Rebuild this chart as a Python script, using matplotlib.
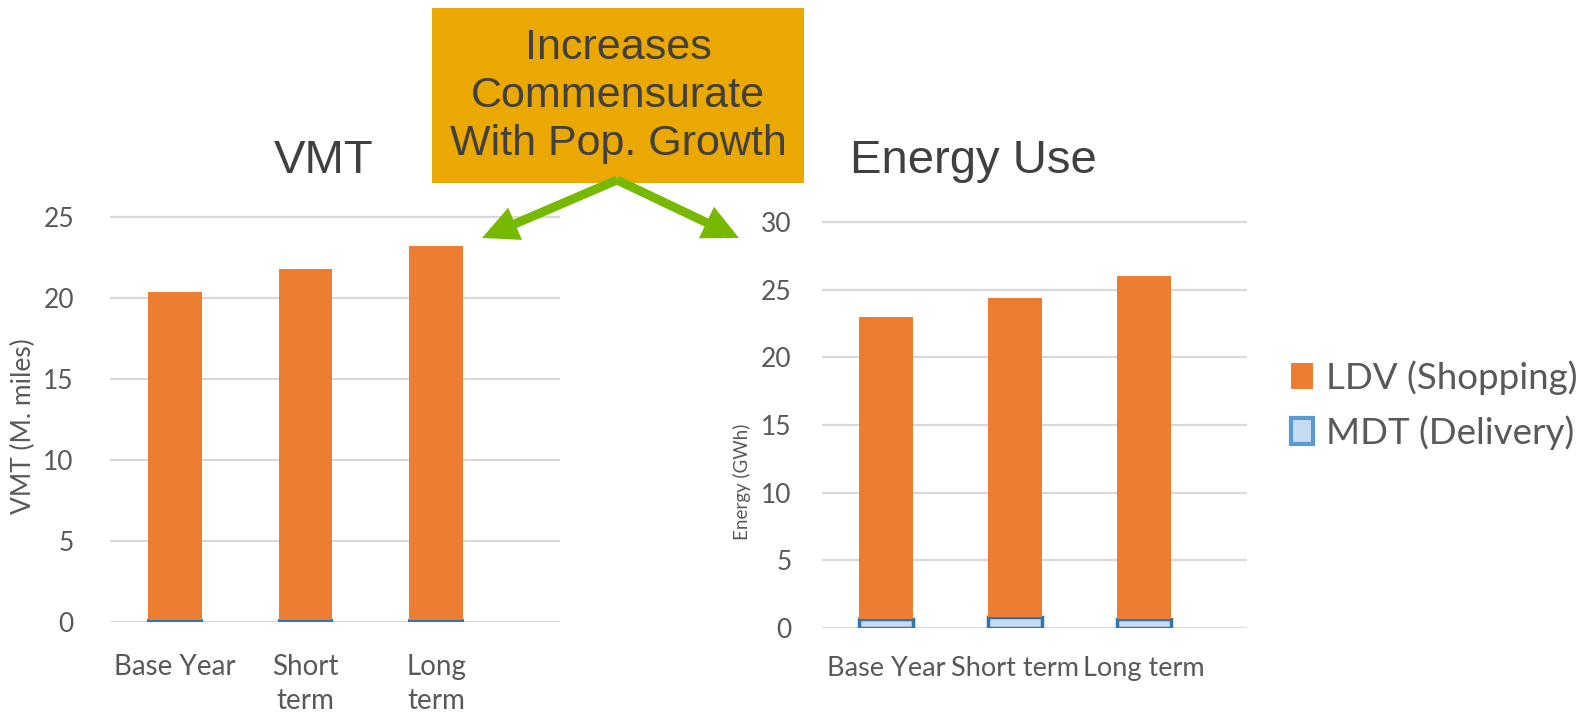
import matplotlib
matplotlib.use("Agg")
import matplotlib.pyplot as plt
from matplotlib.patches import Patch, Rectangle, FancyArrow
import numpy as np

W, H = 1581, 719

# 데이터
vmt_cats = ["Base Year", "Short\nterm", "Long\nterm"]
vmt_ldv = [20.3, 21.7, 23.1]
vmt_mdt = [0.1, 0.1, 0.1]

energy_cats = ["Base Year", "Short term", "Long term"]
energy_ldv = [22.35, 23.6, 25.3]
energy_mdt = [0.65, 0.8, 0.7]

vmt_ticks = [0, 5, 10, 15, 20, 25]
energy_ticks = [0, 5, 10, 15, 20, 25, 30]

ORANGE = "#ED7D31"
MDT_FILL = "#C6DBF2"
MDT_EDGE = "#2E75B6"
GRID = "#D9D9D9"
TXT = "#595959"
DARK = "#404040"
BOX = "#EAA800"
GREEN = "#77B900"

TICK_FONT = "Lato"
HEAD_FONT = "Liberation Sans"


def px_axes(fig, x0, x1, y_top, y_bot):
    return fig.add_axes([x0 / W, 1 - y_bot / H, (x1 - x0) / W, (y_bot - y_top) / H])


def style_axes(ax, ticks, ylim, xlim):
    ax.set_ylim(0, ylim)
    ax.set_xlim(*xlim)
    ax.set_yticks(ticks)
    for s in ax.spines.values():
        s.set_visible(False)
    ax.yaxis.grid(True, color=GRID, lw=1.6)
    ax.set_axisbelow(True)
    ax.tick_params(length=0, colors=TXT)
    for lab in ax.get_yticklabels() + ax.get_xticklabels():
        lab.set_fontfamily(TICK_FONT)
        lab.set_color(TXT)


fig = plt.figure(figsize=(W / 100, H / 100), dpi=100)

# 왼쪽: VMT
ax1 = px_axes(fig, 110, 560, 622 - 25.5 * 16.2, 622)
x = np.arange(len(vmt_cats))
ax1.bar(x, vmt_mdt, width=0.41, color=MDT_FILL, edgecolor=MDT_EDGE, lw=1.5, zorder=2)
ax1.bar(x, vmt_ldv, width=0.41, bottom=vmt_mdt, color=ORANGE, zorder=2)
ax1.set_xticks(x)
ax1.set_xticklabels(vmt_cats, fontsize=20, linespacing=1.4)
ax1.tick_params(axis="y", labelsize=19, pad=26)
ax1.tick_params(axis="x", pad=23)
style_axes(ax1, vmt_ticks, 25.5, (-0.5, 2.95))
ax1.set_ylabel("VMT (M. miles)", fontsize=19, color=TXT, fontfamily=TICK_FONT)
ax1.yaxis.set_label_coords(-0.164, 0.475)

# 오른쪽: Energy Use
ax2 = px_axes(fig, 822, 1247, 628 - 30.5 * 13.53, 628)
x2 = np.arange(len(energy_cats))
ax2.bar(x2, energy_mdt, width=0.42, color=MDT_FILL, edgecolor=MDT_EDGE, lw=2.5, zorder=2)
ax2.bar(x2, energy_ldv, width=0.42, bottom=energy_mdt, color=ORANGE, zorder=2)
ax2.set_xticks(x2)
ax2.set_xticklabels(energy_cats, fontsize=19.5)
ax2.tick_params(axis="y", labelsize=19, pad=22)
ax2.tick_params(axis="x", pad=20)
style_axes(ax2, energy_ticks, 30.5, (-0.5, 2.8))
ax2.set_ylabel("Energy (GWh)", fontsize=13.5, color=TXT, fontfamily=TICK_FONT)
ax2.yaxis.set_label_coords(-0.167, 0.354)

# 범례
handles = [Patch(facecolor=ORANGE, edgecolor="none", label="LDV (Shopping)"),
           Patch(facecolor=MDT_FILL, edgecolor="#5B9BD5", lw=3, label="MDT (Delivery)")]
leg = fig.legend(handles=handles, loc="upper left", bbox_to_anchor=(1291 / W, 1 - 360 / H),
                 frameon=False, borderpad=0, borderaxespad=0, handlelength=0.6,
                 handleheight=0.7, handletextpad=0.34, labelspacing=0.55,
                 prop={"family": TICK_FONT, "size": 26.5})
for t in leg.get_texts():
    t.set_color(TXT)

# 오버레이: 제목, 박스, 화살표
ov = fig.add_axes([0, 0, 1, 1])
ov.set_xlim(0, W)
ov.set_ylim(H, 0)
ov.axis("off")
ov.patch.set_visible(False)

ov.text(324, 173, "VMT", fontsize=34, color=DARK, family=HEAD_FONT, ha="center", va="baseline")
ov.text(973, 173, "Energy Use", fontsize=34, color=DARK, family=HEAD_FONT, ha="center", va="baseline")

ov.add_patch(Rectangle((432, 8), 372, 175, facecolor=BOX, edgecolor="none"))
ov.text(618, 96, "Increases\nCommensurate\nWith Pop. Growth", fontsize=31, color=DARK,
        family=HEAD_FONT, ha="center", va="center", linespacing=1.27)

for tip in [(482, 238), (739, 238)]:
    ov.add_patch(FancyArrow(617, 180, tip[0] - 617, tip[1] - 180, width=9, head_width=35,
                            head_length=36, length_includes_head=True, color=GREEN, lw=0))

fig.savefig("out.png", dpi=100)
